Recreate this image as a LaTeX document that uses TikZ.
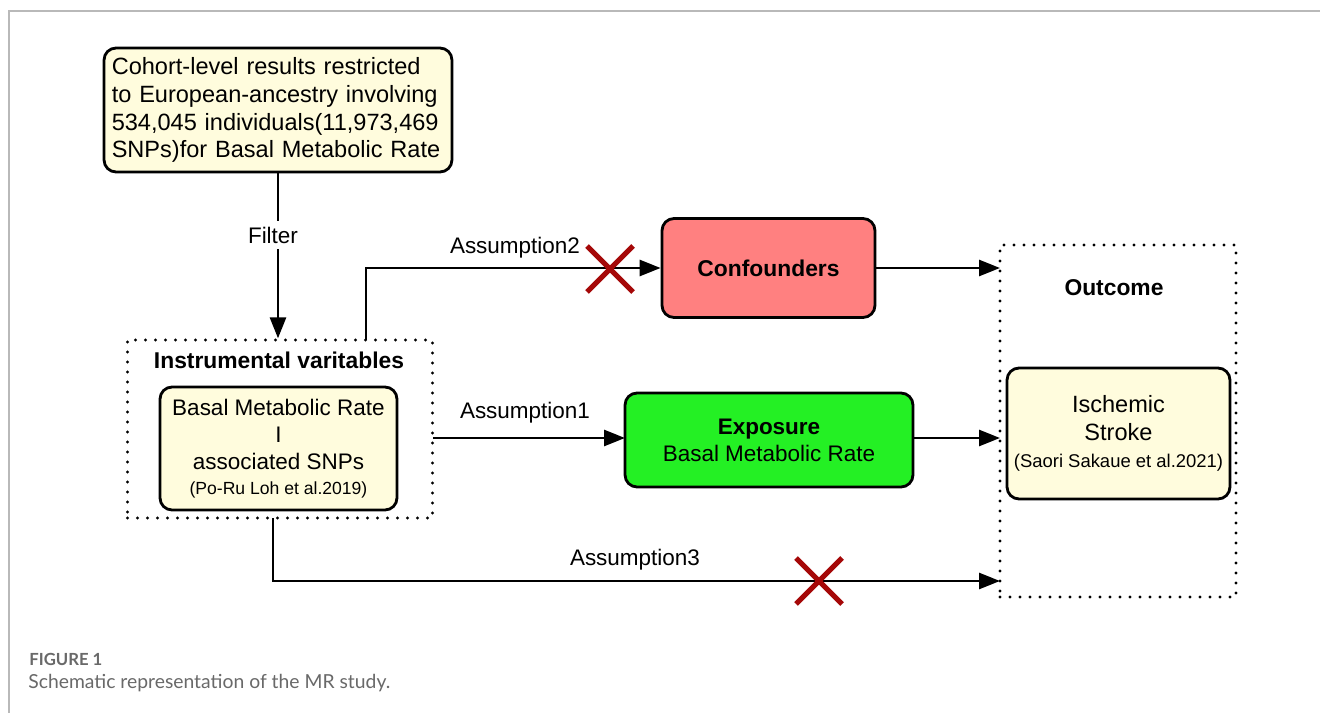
\documentclass[tikz,border=0pt]{standalone}
\usepackage{fontspec}
\setmainfont{Liberation Sans}
\newfontfamily\capfont{Lato}
\usetikzlibrary{arrows.meta,calc}
\definecolor{cream}{RGB}{255,252,221}
\definecolor{confred}{RGB}{255,128,128}
\definecolor{expgreen}{RGB}{36,240,36}
\definecolor{xred}{RGB}{165,8,8}
\definecolor{framegray}{RGB}{185,185,185}
\definecolor{capgray}{RGB}{105,105,105}
\begin{document}
\begin{tikzpicture}[x=0.02cm,y=-0.02cm,
  font=\fontsize{12.8}{15.4}\selectfont,
  solidbox/.style={draw=black, line width=1.6pt, rounded corners=0.24cm, inner sep=0pt, align=center},
  dotbox/.style={draw=black, line width=1.9pt, dash pattern=on 0pt off 0.2cm, line cap=round, inner sep=0pt},
  conn/.style={line width=1.6pt, -{Triangle[length=0.42cm,width=0.32cm]}},
  lbl/.style={inner sep=1pt},
  xmark/.style={xred, line width=2.9pt}]
\useasboundingbox (0,0) rectangle (1320,713);
\fill[white] (0,0) rectangle (1320,713);
\draw[framegray, line width=1pt] (9,713) |- (1320,11);

% top box
\node[solidbox, fill=cream, minimum width=6.96cm, minimum height=2.48cm, align=left, text width=6.65cm,
  font=\fontsize{13.4}{15.9}\selectfont] (cohort) at (278,110)
  {Cohort-level results restricted\\to European-ancestry involving\\534,045 individuals(11,973,469\\SNPs)for Basal Metabolic Rate};

% IV dotted box
\node[dotbox, minimum width=6.1cm, minimum height=3.56cm] (iv) at (280,429) {};
\node[font=\fontsize{13}{15}\selectfont\bfseries] (ivtitle) at (279,360) {Instrumental varitables};
\node[solidbox, fill=cream, minimum width=4.74cm, minimum height=2.46cm, font=\fontsize{12.8}{15.2}\selectfont] (snps) at (278.5,448.5)
  {Basal Metabolic Rate\\I\\associated SNPs\\[-1pt]{\fontsize{10}{12}\selectfont (Po-Ru Loh et al.2019)}};

% filter
\draw[conn] (cohort.south) -- (iv.north -| cohort.south);
\node[fill=white, lbl, inner sep=3pt] (filter) at (273,235) {Filter};

% confounders
\node[solidbox, fill=confred, minimum width=4.26cm, minimum height=1.98cm, font=\fontsize{13}{15}\selectfont\bfseries] (conf) at (768.5,268) {Confounders};
\coordinate (a2start) at (366,340);
\draw[conn] (a2start) |- (conf.west);
\node[lbl] (a2lbl) at (515,248) {Assumption2};
\coordinate (x2) at (610,269);
\draw[xmark] ($(x2)+(-23,-23)$) -- ($(x2)+(23,23)$);
\draw[xmark] ($(x2)+(-23,23)$) -- ($(x2)+(23,-23)$);

% exposure
\node[solidbox, fill=expgreen, minimum width=5.76cm, minimum height=1.88cm] (exp) at (769,440)
  {\textbf{Exposure}\\Basal Metabolic Rate};
\coordinate (a1start) at (433,438);
\coordinate (a1end) at (625,438);
\draw[conn] (a1start) -- (a1end);
\node[lbl] (a1lbl) at (525,413) {Assumption1};

% outcome
\node[dotbox, minimum width=4.72cm, minimum height=7.04cm] (out) at (1118,421) {};
\node[font=\fontsize{13}{15}\selectfont\bfseries] (outtitle) at (1114,288) {Outcome};
\node[solidbox, fill=cream, minimum width=4.46cm, minimum height=2.62cm, font=\fontsize{13.4}{15.6}\selectfont] (stroke) at (1118.5,433.5)
  {Ischemic\\Stroke\\{\fontsize{10.5}{12}\selectfont (Saori Sakaue et al.2021)}};

\coordinate (o1) at (1000,268);
\coordinate (o2) at (1000,438);
\coordinate (o3) at (1000,581);
\draw[conn] (conf.east) -- (o1);
\draw[conn] (exp.east |- o2) -- (o2);

% assumption 3
\coordinate (a3start) at (273,518);
\draw[conn] (a3start) |- (o3);
\node[lbl] (a3lbl) at (635,560) {Assumption3};
\coordinate (x3) at (819,581);
\draw[xmark] ($(x3)+(-23,-23)$) -- ($(x3)+(23,23)$);
\draw[xmark] ($(x3)+(-23,23)$) -- ($(x3)+(23,-23)$);

% caption
\node[anchor=west, inner sep=0pt, text=capgray, font=\capfont\bfseries\fontsize{9.5}{11}\selectfont] (figlbl) at (29,659) {FIGURE 1};
\node[anchor=west, inner sep=0pt, text=capgray, font=\capfont\fontsize{11}{13}\selectfont] (caption) at (28,683) {Schematic representation of the MR study.};
\end{tikzpicture}
\end{document}
